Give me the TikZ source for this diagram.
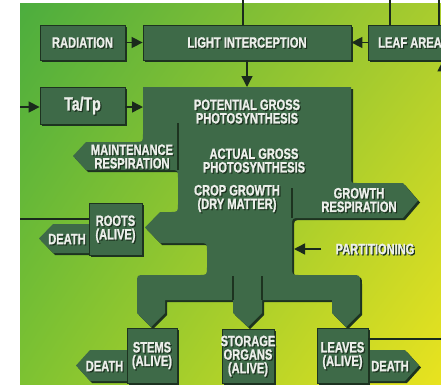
\documentclass[tikz,border=0pt]{standalone}
\usepackage{fontspec}
\setmainfont{Liberation Sans}[FakeStretch=0.74, BoldFeatures={FakeBold=1.2}]
\usepackage{tikz}
\usetikzlibrary{calc, arrows.meta, positioning, shadows, shadings}
\definecolor{boxgreen}{HTML}{3E6A48}
\definecolor{shadowdark}{HTML}{1D3320}
\definecolor{linedark}{HTML}{1A2A1C}
\definecolor{textwhite}{HTML}{ECEFEA}
\definecolor{bgUL}{HTML}{4CAD3E}
\definecolor{bgUR}{HTML}{A9CC2E}
\definecolor{bgLL}{HTML}{7DC232}
\definecolor{bgLR}{HTML}{E9E31F}
% green shape with its dark shadow below right
\newcommand{\greenshape}[1]{\fill[shadowdark, shift={(2,2)}] #1; \fill[boxgreen] #1;}

\begin{document}
\begin{tikzpicture}[x=1pt, y=-1pt,
  lbl/.style={text=textwhite, font=\fontsize{15}{13.5}\selectfont\bfseries, align=center, inner sep=0pt},
  lblsh/.style={lbl, text=shadowdark, xshift=1.2pt, yshift=-1.2pt},
  txt/.style={label={[lblsh]center:{#1}}, label={[lbl]center:{#1}}},
  box/.style={fill=boxgreen, draw=shadowdark, line width=0.8pt,
    drop shadow={shadow xshift=2pt, shadow yshift=-2pt, fill=shadowdark, opacity=1}},
  link/.style={draw=linedark, line width=1.5pt},
  flow/.style={link, -{Triangle[length=11pt, width=11pt]}}]
  \clip (0,0) rectangle (441,384);
  \fill[white] (0,0) rectangle (441,384);
  \shade[upper left=bgUL, upper right=bgUR, lower left=bgLL, lower right=bgLR] (20,3) rectangle (441,384);

  % big assimilation shape
  \greenshape{(143,87) -- (351,87) -- (351,177) .. controls (351,183) .. (357,183) -- (403,183) -- (418,200.5)
    -- (403,218) -- (300,218) .. controls (292,218) .. (292,226) -- (292,267) .. controls (292,275) .. (300,275)
    -- (352,275) .. controls (360,275) .. (360,283) -- (360,313) -- (346,327) -- (332,313) -- (332,300)
    -- (262,300) -- (262,313) -- (248,327) -- (233,313) -- (233,300) -- (165,300) -- (165,313) -- (151,327)
    -- (137,313) -- (137,283) .. controls (137,275) .. (145,275) -- (199,275) .. controls (207,275) .. (207,267)
    -- (207,251) .. controls (207,243) .. (199,243) -- (160,243) -- (145,227.5) -- (160,212) -- (170,212)
    .. controls (178,212) .. (178,204) -- (178,178) .. controls (178,170) .. (170,170) -- (86,170) -- (73,156)
    -- (86,142) -- (135,142) .. controls (143,142) .. (143,134) -- cycle}
  \draw[shadowdark, line width=1.5pt] (178,123) -- (178,170) (292,188) -- (292,218)
    (233,276) -- (233,300) (262,276) -- (262,300);

  % death arrows
  \greenshape{(89,224) -- (53,224) -- (39,238.5) -- (53,253) -- (89,253) -- cycle}
  \greenshape{(127,350) -- (90,350) -- (76,365.5) -- (90,381) -- (127,381) -- cycle}
  \greenshape{(368,350) -- (405,350) -- (419,365.5) -- (405,381) -- (368,381) -- cycle}

  % boxes
  \node[box, minimum width=85, minimum height=35, txt={RADIATION}] (radiation) at (82.5,42.5) {};
  \node[box, minimum width=208, minimum height=35, txt={LIGHT INTERCEPTION}] (light) at (247,42.5) {};
  \node[box, minimum width=84, minimum height=35, txt={LEAF AREA}] (leafarea) at (410,42.5) {};
  \node[box, minimum width=85, minimum height=37, txt={\fontsize{19}{19}\selectfont Ta/Tp}] (tatp) at (82.5,105.5) {};
  \node[box, minimum width=53, minimum height=52, txt={ROOTS\\(ALIVE)}] (roots) at (115.5,229) {};
  \node[box, minimum width=50, minimum height=55, txt={STEMS\\(ALIVE)}] (stems) at (152,355.5) {};
  \node[box, minimum width=52, minimum height=54, txt={STORAGE\\ORGANS\\(ALIVE)}] (storage) at (248,356) {};
  \node[box, minimum width=51, minimum height=55, txt={LEAVES\\(ALIVE)}] (leaves) at (342.5,355.5) {};

  % texts
  \node[txt={POTENTIAL GROSS\\PHOTOSYNTHESIS}] (potential) at (247,111.5) {};
  \node[txt={ACTUAL GROSS\\PHOTOSYNTHESIS}] (actual) at (254,160.5) {};
  \node[txt={CROP GROWTH\\(DRY MATTER)}] (crop) at (237,198.5) {};
  \node[txt={MAINTENANCE\\RESPIRATION}] (maint) at (132,156.5) {};
  \node[txt={GROWTH\\RESPIRATION}] (growthresp) at (359,200) {};
  \node[txt={DEATH}] (rootsdeath) at (67,239) {};
  \node[txt={DEATH}] (stemsdeath) at (104.5,366) {};
  \node[txt={DEATH}] (leavesdeath) at (390,366) {};
  \node[inner sep=0pt, minimum width=85, txt={PARTITIONING}] (partitioning) at (375,249) {};

  % connectors
  \coordinate (potTop) at (247,87);
  \coordinate (potLeft) at (143,107);
  \coordinate (trunk) at (294,249);
  \coordinate (topA) at (243,0);
  \coordinate (topB) at (390,0);
  \coordinate (topC) at (439,0);
  \coordinate (rightIn) at (443,120);
  \coordinate (tatpIn) at (20,107);
  \coordinate (rootsOut) at (20,219);
  \coordinate (leavesOut) at (441,339);
  \draw[flow] (radiation) -- (light);
  \draw[flow] (leafarea) -- (light);
  \draw[flow] (light.south) -- (potTop);
  \draw[flow] (tatp.east |- potLeft) -- (potLeft);
  \draw[flow] (tatpIn) -- (tatpIn -| tatp.west);
  \draw[flow, shorten <=11pt] (partitioning.west) -- (trunk);
  \draw[flow] (rightIn) -- (rightIn |- leafarea.south);
  \draw[link] (topA) -- (topA |- light.north);
  \draw[link] (topB) -- (topB |- leafarea.north);
  \draw[link] (topC) -- (topC |- leafarea.north);
  \draw[link] (rootsOut) -- (rootsOut -| roots.west);
  \draw[link] (leaves.east |- leavesOut) -- (leavesOut);
\end{tikzpicture}
\end{document}
